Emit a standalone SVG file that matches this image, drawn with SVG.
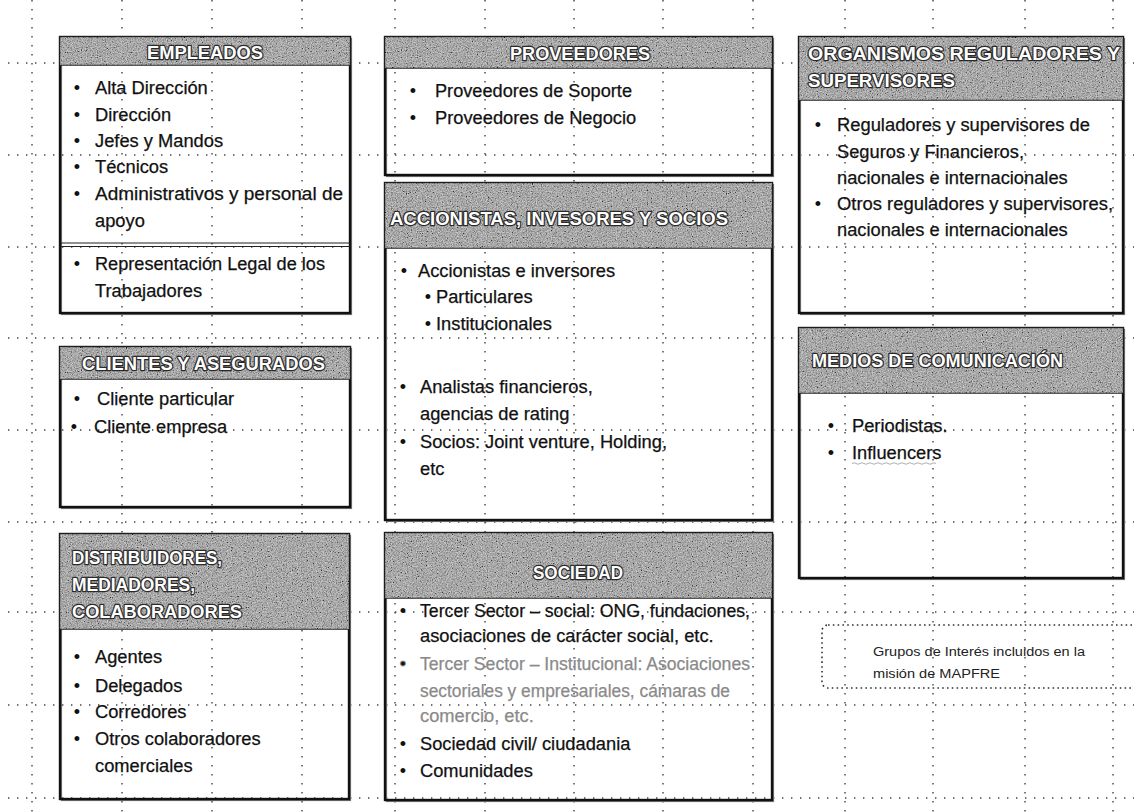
<svg xmlns="http://www.w3.org/2000/svg" width="1134" height="812" viewBox="0 0 1134 812">
<defs>
<filter id="grain" x="0" y="0" width="1" height="1" filterUnits="objectBoundingBox">
<feTurbulence type="fractalNoise" baseFrequency="0.8" numOctaves="3" seed="7" result="t"/>
<feColorMatrix in="t" type="matrix" values="0.9 0.9 0.9 0 -0.85  0.9 0.9 0.9 0 -0.85  0.9 0.9 0.9 0 -0.85  0 0 0 0 0.6" result="g"/>
<feComposite in="g" in2="SourceGraphic" operator="in"/>
</filter>
<style>
.grid line{stroke:#444;stroke-width:1.4;stroke-dasharray:1.4 7.6}
.box{fill:none;stroke:#111;stroke-width:2.4}
.shadow{fill:none;stroke:#777;stroke-width:1.2}
.hdr{fill:#8a8a8a;stroke:#222;stroke-width:1.5}
.tex{fill:#8a8a8a}
.ht{font-family:"Liberation Sans",Arial,sans-serif;font-weight:bold;font-size:18px;fill:#fff;stroke:#2a2a2a;stroke-width:2.4;paint-order:stroke;stroke-linejoin:round}
.t{font-family:"Liberation Sans",Arial,sans-serif;font-size:18.3px;fill:#111;stroke:#111;stroke-width:0.25}
.g{fill:#8a8a8a;stroke:#8a8a8a}
.b{font-family:"Liberation Sans",Arial,sans-serif;font-size:18px;fill:#111;text-anchor:middle}
.sm{font-family:"Liberation Sans",Arial,sans-serif;font-size:12.5px;fill:#222}
.sep{stroke:#222;stroke-width:1.2}
</style>
</defs>
<rect width="1134" height="812" fill="#fff"/>
<g id="grid" class="grid">
<line x1="32" y1="0" x2="32" y2="812"/>
<line x1="122" y1="0" x2="122" y2="812"/>
<line x1="212" y1="0" x2="212" y2="812"/>
<line x1="302" y1="0" x2="302" y2="812"/>
<line x1="395" y1="0" x2="395" y2="812"/>
<line x1="485" y1="0" x2="485" y2="812"/>
<line x1="574" y1="0" x2="574" y2="812"/>
<line x1="663" y1="0" x2="663" y2="812"/>
<line x1="753" y1="0" x2="753" y2="812"/>
<line x1="845" y1="0" x2="845" y2="812"/>
<line x1="933" y1="0" x2="933" y2="812"/>
<line x1="1025" y1="0" x2="1025" y2="812"/>
<line x1="1113" y1="0" x2="1113" y2="812"/>
<line x1="8" y1="63" x2="1134" y2="63"/>
<line x1="8" y1="155" x2="1134" y2="155"/>
<line x1="8" y1="247" x2="1134" y2="247"/>
<line x1="8" y1="338" x2="1134" y2="338"/>
<line x1="8" y1="430" x2="1134" y2="430"/>
<line x1="8" y1="522" x2="1134" y2="522"/>
<line x1="8" y1="612" x2="1134" y2="612"/>
<line x1="8" y1="705" x2="1134" y2="705"/>
<line x1="8" y1="798" x2="1134" y2="798"/>
</g>
<g id="connectors"></g>

<g id="empleados">
<rect class="shadow" x="61.5" y="38.5" width="290" height="276"/>
<rect class="box" x="60" y="37" width="290" height="276"/>
<rect class="hdr" x="60" y="37" width="290" height="28"/>
<rect class="tex" x="60" y="37" width="290" height="28" filter="url(#grain)"/>
<text class="ht" x="147" y="59" textLength="116" lengthAdjust="spacingAndGlyphs">EMPLEADOS</text>
<text class="b" x="77" y="94">•</text><text class="t" x="95" y="94">Alta Dirección</text>
<text class="b" x="77" y="121">•</text><text class="t" x="95" y="121">Dirección</text>
<text class="b" x="77" y="147">•</text><text class="t" x="95" y="147">Jefes y Mandos</text>
<text class="b" x="77" y="173">•</text><text class="t" x="95" y="173">Técnicos</text>
<text class="b" x="77" y="200">•</text><text class="t" x="95" y="200" textLength="248" lengthAdjust="spacingAndGlyphs">Administrativos y personal de</text>
<text class="t" x="95" y="227">apoyo</text>
<line class="sep" x1="60" y1="243" x2="350" y2="243"/>
<line class="sep" x1="60" y1="246.5" x2="350" y2="246.5"/>
<text class="b" x="77" y="270">•</text><text class="t" x="95" y="270" textLength="230" lengthAdjust="spacingAndGlyphs">Representación Legal de los</text>
<text class="t" x="95" y="297">Trabajadores</text>
</g>

<g id="clientes">
<rect class="shadow" x="61.5" y="348.5" width="290" height="160"/>
<rect class="box" x="60" y="347" width="290" height="160"/>
<rect class="hdr" x="60" y="347" width="290" height="32"/>
<rect class="tex" x="60" y="347" width="290" height="32" filter="url(#grain)"/>
<text class="ht" x="82" y="370" textLength="243" lengthAdjust="spacingAndGlyphs">CLIENTES Y ASEGURADOS</text>
<text class="b" x="77" y="405">•</text><text class="t" x="97" y="405">Cliente particular</text>
<text class="b" x="74" y="433">•</text><text class="t" x="94" y="433">Cliente empresa</text>
</g>

<g id="distribuidores">
<rect class="shadow" x="61.5" y="535.5" width="289" height="265"/>
<rect class="box" x="60" y="534" width="289" height="265"/>
<rect class="hdr" x="60" y="534" width="289" height="95"/>
<rect class="tex" x="60" y="534" width="289" height="95" filter="url(#grain)"/>
<text class="ht" x="72" y="564" textLength="150" lengthAdjust="spacingAndGlyphs">DISTRIBUIDORES,</text>
<text class="ht" x="72" y="591" textLength="123" lengthAdjust="spacingAndGlyphs">MEDIADORES,</text>
<text class="ht" x="72" y="618" textLength="170" lengthAdjust="spacingAndGlyphs">COLABORADORES</text>
<text class="b" x="77" y="663">•</text><text class="t" x="95" y="663">Agentes</text>
<text class="b" x="77" y="692">•</text><text class="t" x="95" y="692">Delegados</text>
<text class="b" x="77" y="718">•</text><text class="t" x="95" y="718">Corredores</text>
<text class="b" x="77" y="745">•</text><text class="t" x="95" y="745">Otros colaboradores</text>
<text class="t" x="95" y="772">comerciales</text>
</g>

<g id="proveedores">
<rect class="shadow" x="386.5" y="38.5" width="387" height="138"/>
<rect class="box" x="385" y="37" width="387" height="138"/>
<rect class="hdr" x="385" y="37" width="387" height="31"/>
<rect class="tex" x="385" y="37" width="387" height="31" filter="url(#grain)"/>
<text class="ht" x="510" y="60" textLength="140" lengthAdjust="spacingAndGlyphs">PROVEEDORES</text>
<text class="b" x="413" y="97">•</text><text class="t" x="435" y="97" textLength="197" lengthAdjust="spacingAndGlyphs">Proveedores de Soporte</text>
<text class="b" x="413" y="124">•</text><text class="t" x="435" y="124">Proveedores de Negocio</text>
</g>

<g id="accionistas">
<rect class="shadow" x="386.5" y="184.5" width="387" height="337"/>
<rect class="box" x="385" y="183" width="387" height="337"/>
<rect class="hdr" x="385" y="183" width="387" height="65"/>
<rect class="tex" x="385" y="183" width="387" height="65" filter="url(#grain)"/>
<text class="ht" x="390" y="225" textLength="338" lengthAdjust="spacingAndGlyphs">ACCIONISTAS, INVESORES Y SOCIOS</text>
<text class="b" x="404" y="277">•</text><text class="t" x="418" y="277">Accionistas e inversores</text>
<text class="b" x="428" y="303">•</text><text class="t" x="436" y="303">Particulares</text>
<text class="b" x="428" y="330">•</text><text class="t" x="436" y="330">Institucionales</text>
<text class="b" x="403" y="393">•</text><text class="t" x="420" y="393">Analistas financieros,</text>
<text class="t" x="420" y="420">agencias de rating</text>
<text class="b" x="403" y="448">•</text><text class="t" x="420" y="448" textLength="247" lengthAdjust="spacingAndGlyphs">Socios: Joint venture, Holding,</text>
<text class="t" x="420" y="475">etc</text>
</g>

<g id="sociedad">
<rect class="shadow" x="386.5" y="534.5" width="387" height="267"/>
<rect class="box" x="385" y="533" width="387" height="267"/>
<rect class="hdr" x="385" y="533" width="387" height="65"/>
<rect class="tex" x="385" y="533" width="387" height="65" filter="url(#grain)"/>
<text class="ht" x="533" y="579" textLength="90" lengthAdjust="spacingAndGlyphs">SOCIEDAD</text>
<text class="b" x="403" y="617">•</text><text class="t" x="420" y="617" textLength="330" lengthAdjust="spacingAndGlyphs">Tercer Sector – social: ONG, fundaciones,</text>
<text class="t" x="420" y="642">asociaciones de carácter social, etc.</text>
<text class="b g" x="403" y="670">•</text><text class="t g" x="420" y="670" textLength="330" lengthAdjust="spacingAndGlyphs">Tercer Sector – Institucional: Asociaciones</text>
<text class="t g" x="420" y="697" textLength="310" lengthAdjust="spacingAndGlyphs">sectoriales y empresariales, cámaras de</text>
<text class="t g" x="420" y="722">comercio, etc.</text>
<text class="b" x="403" y="750">•</text><text class="t" x="420" y="750">Sociedad civil/ ciudadania</text>
<text class="b" x="403" y="777">•</text><text class="t" x="420" y="777">Comunidades</text>
</g>

<g id="organismos">
<rect class="shadow" x="800.5" y="38.5" width="324" height="276"/>
<rect class="box" x="799" y="37" width="324" height="276"/>
<rect class="hdr" x="799" y="37" width="324" height="63"/>
<rect class="tex" x="799" y="37" width="324" height="63" filter="url(#grain)"/>
<text class="ht" x="808" y="60" textLength="312" lengthAdjust="spacingAndGlyphs">ORGANISMOS REGULADORES Y</text>
<text class="ht" x="808" y="87" textLength="147" lengthAdjust="spacingAndGlyphs">SUPERVISORES</text>
<text class="b" x="818" y="131">•</text><text class="t" x="837" y="131" textLength="253" lengthAdjust="spacingAndGlyphs">Reguladores y supervisores de</text>
<text class="t" x="837" y="158">Seguros y Financieros,</text>
<text class="t" x="837" y="184">nacionales e internacionales</text>
<text class="b" x="818" y="210">•</text><text class="t" x="837" y="210" textLength="276" lengthAdjust="spacingAndGlyphs">Otros reguladores y supervisores,</text>
<text class="t" x="837" y="236">nacionales e internacionales</text>
</g>

<g id="medios">
<rect class="shadow" x="800.5" y="329.5" width="324" height="250"/>
<rect class="box" x="799" y="328" width="324" height="250"/>
<rect class="hdr" x="799" y="328" width="324" height="65"/>
<rect class="tex" x="799" y="328" width="324" height="65" filter="url(#grain)"/>
<text class="ht" x="812" y="367" textLength="251" lengthAdjust="spacingAndGlyphs">MEDIOS DE COMUNICACIÓN</text>
<text class="b" x="831" y="432">•</text><text class="t" x="852" y="432">Periodistas.</text>
<text class="b" x="831" y="459">•</text><text class="t" x="852" y="459">Influencers</text>
<path d="M852 463.5 q2 -1.5 4 0 t4 0 t4 0 t4 0 t4 0 t4 0 t4 0 t4 0 t4 0 t4 0 t4 0 t4 0 t4 0 t4 0 t4 0 t4 0 t4 0 t4 0 t4 0 t4 0 t4 0" fill="none" stroke="#999" stroke-width="0.8"/>
</g>

<g id="grupos">
<rect x="822" y="625" width="340" height="63" rx="6" fill="none" stroke="#333" stroke-width="1.6" stroke-dasharray="1.6 3.2"/>
<text class="sm" x="873" y="656" textLength="212" lengthAdjust="spacingAndGlyphs">Grupos de Interés incluidos en la</text>
<text class="sm" x="873" y="678" textLength="127" lengthAdjust="spacingAndGlyphs">misión de MAPFRE</text>
</g>
</svg>
